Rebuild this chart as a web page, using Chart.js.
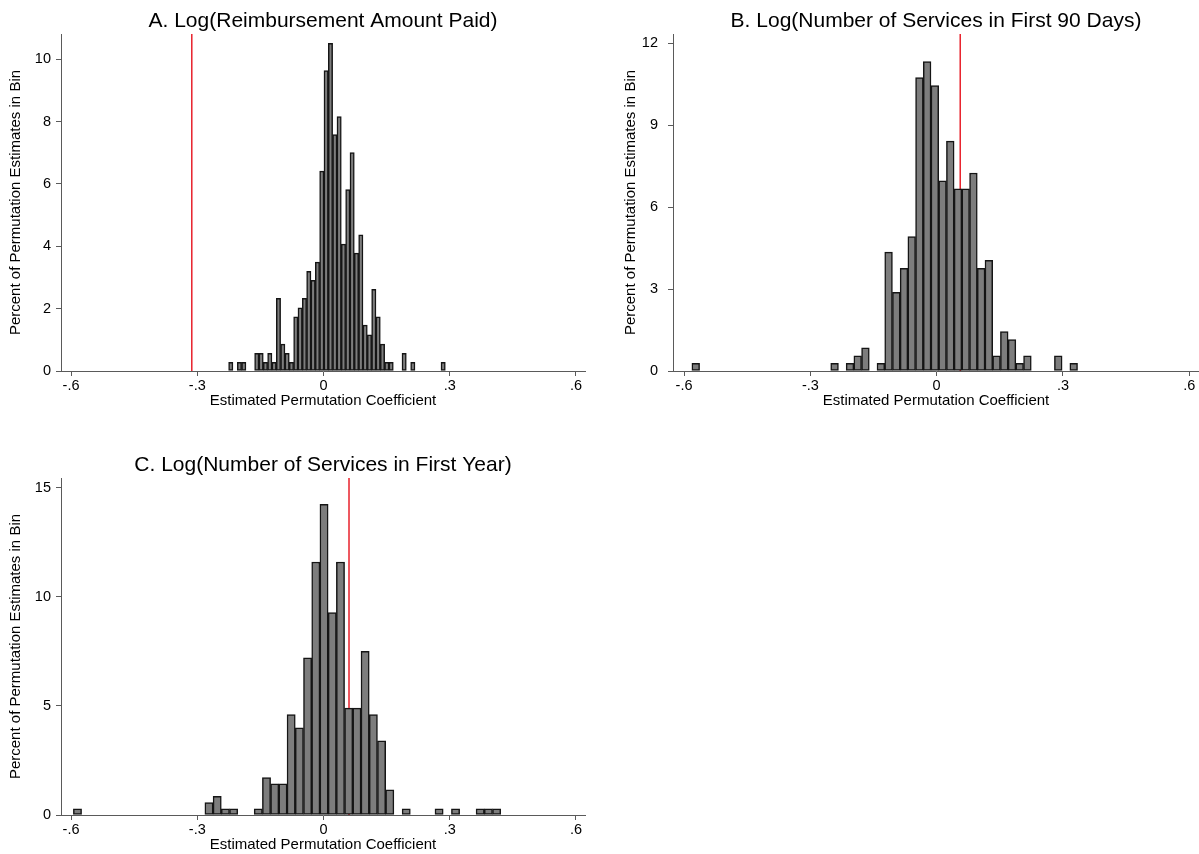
<!DOCTYPE html>
<html>
<head>
<meta charset="utf-8">
<script src="https://cdn.jsdelivr.net/npm/chart.js@4.4.0/dist/chart.umd.min.js"></script>
<style>
html,body{margin:0;padding:0;background:#fff;overflow:hidden;width:1199px;height:854px;}
.p{position:absolute;}
canvas{display:block;}
</style>
</head>
<body>
<div class="p" style="left:0;top:0"><canvas id="cA" width="600" height="420"></canvas></div>
<div class="p" style="left:600px;top:0"><canvas id="cB" width="599" height="420"></canvas></div>
<div class="p" style="left:0;top:444px"><canvas id="cC" width="600" height="410"></canvas></div>
<script>
// ---- Panel A: Log(Reimbursement Amount Paid) ----
const titleA = 'A. Log(Reimbursement Amount Paid)';
const binsA = [-0.22035, -0.19975, -0.18945, -0.15855, -0.14825, -0.13795, -0.12765, -0.11735, -0.10705, -0.09675,
  -0.08645, -0.07615, -0.06585, -0.05555, -0.04525, -0.03495, -0.02465, -0.01435, -0.00405, 0.00625,
  0.01655, 0.02685, 0.03715, 0.04745, 0.05775, 0.06805, 0.07835, 0.08865, 0.09895, 0.10925,
  0.11955, 0.12985, 0.14015, 0.15045, 0.16075, 0.19165, 0.21225, 0.28435];
const pctA = [0.28, 0.28, 0.28, 0.57, 0.57, 0.28, 0.57, 0.28, 2.33, 0.86,
  0.57, 0.28, 1.74, 2.03, 2.33, 3.20, 2.91, 3.49, 6.41, 9.64,
  10.51, 7.58, 8.16, 4.07, 5.82, 7.01, 3.78, 4.37, 1.47, 1.16,
  2.62, 1.74, 0.86, 0.28, 0.28, 0.57, 0.28, 0.28];
const redA = -0.313;
const yTicksA = [0, 2, 4, 6, 8, 10];

// ---- Panel B: Log(Number of Services in First 90 Days) ----
const titleB = 'B. Log(Number of Services in First 90 Days)';
const binsB = [-0.5722, -0.24244, -0.2058, -0.18748, -0.16916, -0.13252, -0.1142, -0.09588, -0.07756, -0.05924,
  -0.04092, -0.0226, -0.00428, 0.01404, 0.03236, 0.05068, 0.069, 0.08732, 0.10564, 0.12396,
  0.14228, 0.1606, 0.17892, 0.19724, 0.21556, 0.28884, 0.32548];
const pctB = [0.28, 0.28, 0.28, 0.56, 0.85, 0.28, 4.35, 2.88, 3.76, 4.92,
  10.74, 11.33, 10.45, 6.96, 8.42, 6.67, 6.67, 7.25, 3.76, 4.05,
  0.56, 1.44, 1.15, 0.28, 0.56, 0.56, 0.28];
const redB = 0.056;
const yTicksB = [0, 3, 6, 9, 12];

// ---- Panel C: Log(Number of Services in First Year) ----
const titleC = 'C. Log(Number of Services in First Year)';
const binsC = [-0.58464, -0.27216, -0.25263, -0.2331, -0.21357, -0.15498, -0.13545, -0.11592, -0.09639, -0.07686,
  -0.05733, -0.0378, -0.01827, 0.00126, 0.02079, 0.04032, 0.05985, 0.07938, 0.09891, 0.11844,
  0.13797, 0.1575, 0.19656, 0.27468, 0.31374, 0.37233, 0.39186, 0.41139];
const pctC = [0.28, 0.57, 0.86, 0.28, 0.28, 0.28, 1.72, 1.43, 1.43, 4.6,
  4.0, 7.2, 11.6, 14.24, 9.28, 11.6, 4.9, 4.9, 7.5, 4.6,
  3.4, 1.15, 0.28, 0.28, 0.28, 0.28, 0.28, 0.28];
const redC = 0.0606;
const yTicksC = [0, 5, 10, 15];

// ---- shared axis text ----
const xTickValues = [-0.6, -0.3, 0, 0.3, 0.6];
const xTickLabels = ['-.6', '-.3', '0', '.3', '.6'];
const xTitle = 'Estimated Permutation Coefficient';
const yTitle = 'Percent of Permutation Estimates in Bin';

const FONT = "'Liberation Sans', Arial, Helvetica, sans-serif";
const AXIS = '#5a5a5a';

function makeChart(id, o) {
  return new Chart(document.getElementById(id), {
    type: 'bar',
    data: {
      datasets: [
        {
          type: 'bar',
          data: o.bins.map((x, i) => ({ x: x, y: o.pct[i] })),
          backgroundColor: '#7d7d7d',
          borderColor: '#151515',
          borderWidth: 1.5,
          borderSkipped: false,
          barPercentage: 1,
          categoryPercentage: 1,
          order: 1
        },
        {
          type: 'line',
          data: [{ x: o.red, y: 0 }, { x: o.red, y: o.yMax }],
          borderColor: '#e8212b',
          borderWidth: 1.5,
          pointRadius: 0,
          fill: false,
          order: 2
        }
      ]
    },
    options: {
      responsive: false,
      animation: false,
      devicePixelRatio: 1,
      layout: { padding: { left: 0, right: o.padRight, top: 0, bottom: 0 } },
      plugins: {
        legend: { display: false },
        tooltip: { enabled: false },
        title: {
          display: true, text: o.title, fullSize: false, color: '#000',
          font: { family: FONT, size: 21, weight: 'normal' },
          padding: { top: 8.8, bottom: 0 }
        }
      },
      scales: {
        x: {
          type: 'linear', min: o.xMin, max: o.xMax, offset: false,
          afterBuildTicks: s => { s.ticks = xTickValues.map(v => ({ value: v })); },
          afterFit: s => { s.height = o.xHeight; },
          ticks: {
            callback: (v, i) => xTickLabels[i],
            color: '#000', font: { family: FONT, size: 14.5 }, padding: 1,
            maxRotation: 0, autoSkip: false
          },
          grid: { drawOnChartArea: false, drawTicks: true, tickLength: 5, color: AXIS, offset: false },
          border: { display: true, color: AXIS, width: 1 },
          title: {
            display: true, text: xTitle, color: '#000',
            font: { family: FONT, size: 15 }, padding: { top: 0, bottom: o.xTitleBottom }
          }
        },
        y: {
          type: 'linear', min: 0, max: o.yMax,
          afterBuildTicks: s => { s.ticks = o.yTicks.map(v => ({ value: v })); },
          afterFit: s => { s.width = o.yWidth; },
          ticks: { color: '#000', font: { family: FONT, size: 14.5 }, padding: o.yTickPad },
          grid: { drawOnChartArea: false, drawTicks: true, tickLength: 5, color: AXIS },
          border: { display: true, color: AXIS, width: 1 },
          title: {
            display: true, text: yTitle, color: '#000',
            font: { family: FONT, size: 15 }, padding: { top: o.yTitlePad, bottom: 0 }
          }
        }
      }
    }
  });
}

makeChart('cA', { title: titleA, bins: binsA, pct: pctA, red: redA, yTicks: yTicksA,
  yMax: 10.81, xMin: -0.6238, xMax: 0.6214, padRight: 15, xHeight: 49, xTitleBottom: 10,
  yWidth: 61, yTickPad: 5, yTitlePad: 7 });
makeChart('cB', { title: titleB, bins: binsB, pct: pctB, red: redB, yTicks: yTicksB,
  yMax: 12.34, xMin: -0.6262, xMax: 0.6231, padRight: 0, xHeight: 49, xTitleBottom: 10,
  yWidth: 73, yTickPad: 10, yTitlePad: 22 });
makeChart('cC', { title: titleC, bins: binsC, pct: pctC, red: redC, yTicks: yTicksC,
  yMax: 15.45, xMin: -0.6238, xMax: 0.6214, padRight: 15, xHeight: 39, xTitleBottom: 0,
  yWidth: 61, yTickPad: 5, yTitlePad: 7 });
</script>
</body>
</html>
